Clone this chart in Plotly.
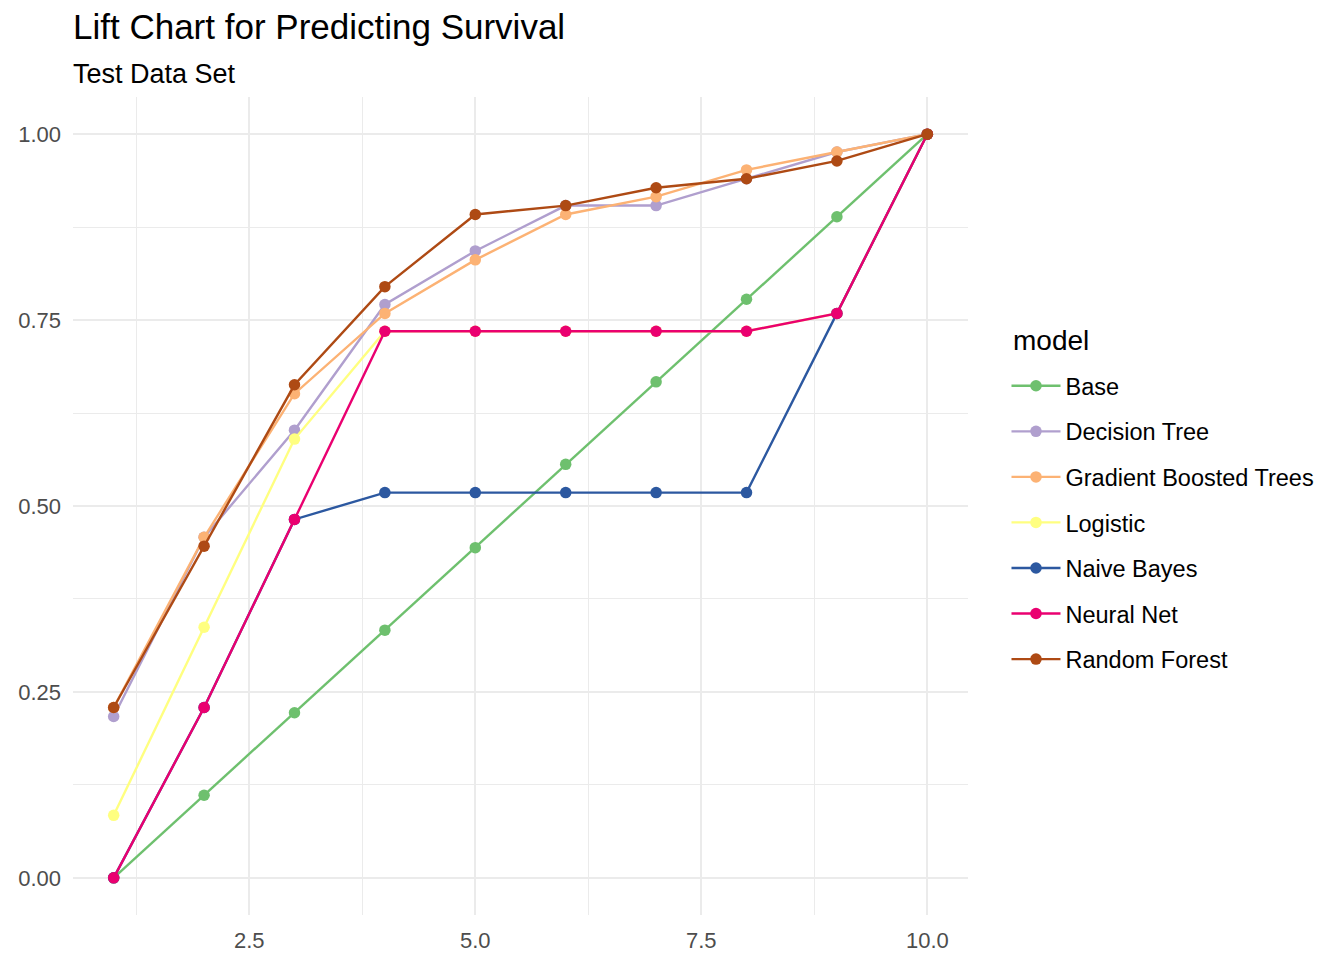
import plotly.graph_objects as go

deciles = [1, 2, 3, 4, 5, 6, 7, 8, 9, 10]

models = ["Base", "Decision Tree", "Gradient Boosted Trees", "Logistic",
          "Naive Bayes", "Neural Net", "Random Forest"]

base = [0.000, 0.111, 0.222, 0.333, 0.444, 0.556, 0.667, 0.778, 0.889, 1.000]
decision_tree = [0.217, 0.458, 0.602, 0.771, 0.843, 0.904, 0.904, 0.940, 0.976, 1.000]
gradient_boosted = [0.229, 0.458, 0.651, 0.759, 0.831, 0.892, 0.916, 0.952, 0.976, 1.000]
logistic = [0.084, 0.337, 0.590, 0.735, 0.735, 0.735, 0.735, 0.735, 0.759, 1.000]
naive_bayes = [0.000, 0.229, 0.482, 0.518, 0.518, 0.518, 0.518, 0.518, 0.759, 1.000]
neural_net = [0.000, 0.229, 0.482, 0.735, 0.735, 0.735, 0.735, 0.735, 0.759, 1.000]
random_forest = [0.229, 0.446, 0.663, 0.795, 0.892, 0.904, 0.928, 0.940, 0.964, 1.000]

series = [base, decision_tree, gradient_boosted, logistic, naive_bayes, neural_net, random_forest]
colors = ["#6EC06E", "#B09FCE", "#FCB274", "#FFFF80", "#2C58A0", "#EA0070", "#AE4A14"]

y_ticks = [0.00, 0.25, 0.50, 0.75, 1.00]
y_tick_labels = ["0.00", "0.25", "0.50", "0.75", "1.00"]
x_ticks = [2.5, 5.0, 7.5, 10.0]
x_tick_labels = ["2.5", "5.0", "7.5", "10.0"]

FONT = "Liberation Sans, Arial, sans-serif"

fig = go.Figure()
for name, vals, col in zip(models, series, colors):
    fig.add_trace(go.Scatter(
        x=deciles, y=vals, name=name, mode="lines+markers",
        line=dict(color=col, width=2.4),
        marker=dict(color=col, size=11.5),
        legendgroup=name,
    ))

fig.update_layout(
    width=1344, height=960,
    paper_bgcolor="white", plot_bgcolor="white",
    margin=dict(l=73, r=376, t=97, b=45),
    font=dict(family=FONT, color="black"),
    title=dict(text="Lift Chart for Predicting Survival", x=73 / 1344, xanchor="left",
               xref="container", yref="container", y=1 - 27 / 960, yanchor="middle",
               font=dict(size=35, family=FONT, color="black")),
    annotations=[
        dict(text="Test Data Set", xref="paper", yref="paper",
             x=-2 / 895, xanchor="left", y=1 + (97 - 74) / 818, yanchor="middle",
             showarrow=False, font=dict(size=27, family=FONT, color="black")),
        dict(text="model", xref="paper", yref="paper",
             x=(1011 - 73) / 895, xanchor="left", y=1 - (341 - 97) / 818, yanchor="middle",
             showarrow=False, font=dict(size=28, family=FONT, color="black")),
    ],
    legend=dict(font=dict(size=23.5, family=FONT, color="black"),
                x=1.043, xanchor="left", y=1 - (364 - 97) / 818, yanchor="top",
                tracegroupgap=12, traceorder="grouped", itemwidth=49),
    showlegend=True,
)

fig.update_xaxes(
    range=[0.55, 10.45], tickmode="array", tickvals=x_ticks, ticktext=x_tick_labels,
    showgrid=True, gridcolor="#EBEBEB", gridwidth=2.1, zeroline=False, showline=False,
    ticks="", tickfont=dict(size=22, color="#4D4D4D", family=FONT),
    minor=dict(tickmode="array", tickvals=[1.25, 3.75, 6.25, 8.75], showgrid=True,
               gridcolor="#EBEBEB", gridwidth=1.1, ticks=""),
    ticklabelstandoff=10, automargin=False,
)
fig.update_yaxes(
    range=[-0.05, 1.05], tickmode="array", tickvals=y_ticks, ticktext=y_tick_labels,
    showgrid=True, gridcolor="#EBEBEB", gridwidth=2.1, zeroline=False, showline=False,
    ticks="", tickfont=dict(size=22, color="#4D4D4D", family=FONT),
    minor=dict(tickmode="array", tickvals=[0.125, 0.375, 0.625, 0.875], showgrid=True,
               gridcolor="#EBEBEB", gridwidth=1.1, ticks=""),
    ticklabelstandoff=11, automargin=False,
)

fig.write_html("out.html", config={"displayModeBar": False},
               post_script="document.body.style.margin='0';document.body.style.overflow='hidden';")
